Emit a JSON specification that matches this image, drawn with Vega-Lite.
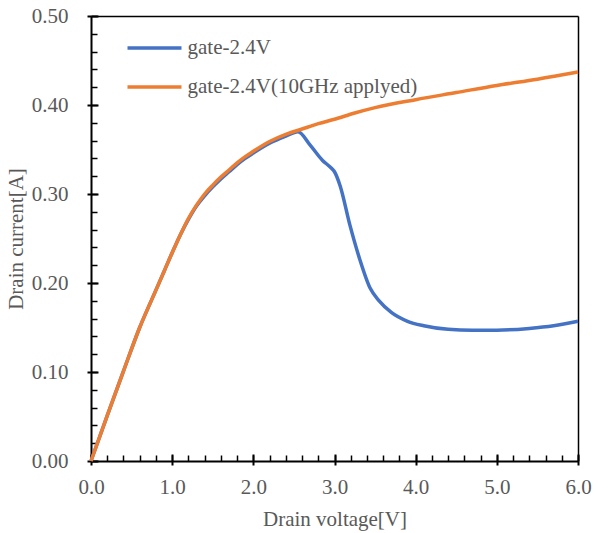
{
  "$schema": "https://vega.github.io/schema/vega-lite/v6.json",
  "width": 487,
  "height": 445,
  "data": {
    "values": [
      {"x": 0.0, "y": 0.000, "s": "gate-2.4V"},
      {"x": 0.2, "y": 0.051, "s": "gate-2.4V"},
      {"x": 0.4, "y": 0.101, "s": "gate-2.4V"},
      {"x": 0.6, "y": 0.150, "s": "gate-2.4V"},
      {"x": 0.8, "y": 0.192, "s": "gate-2.4V"},
      {"x": 0.9, "y": 0.213, "s": "gate-2.4V"},
      {"x": 1.0, "y": 0.234, "s": "gate-2.4V"},
      {"x": 1.1, "y": 0.254, "s": "gate-2.4V"},
      {"x": 1.2, "y": 0.2715, "s": "gate-2.4V"},
      {"x": 1.3, "y": 0.2865, "s": "gate-2.4V"},
      {"x": 1.4, "y": 0.298, "s": "gate-2.4V"},
      {"x": 1.5, "y": 0.308, "s": "gate-2.4V"},
      {"x": 1.6, "y": 0.317, "s": "gate-2.4V"},
      {"x": 1.7, "y": 0.325, "s": "gate-2.4V"},
      {"x": 1.8, "y": 0.333, "s": "gate-2.4V"},
      {"x": 1.9, "y": 0.340, "s": "gate-2.4V"},
      {"x": 2.0, "y": 0.346, "s": "gate-2.4V"},
      {"x": 2.2, "y": 0.357, "s": "gate-2.4V"},
      {"x": 2.4, "y": 0.365, "s": "gate-2.4V"},
      {"x": 2.55, "y": 0.370, "s": "gate-2.4V"},
      {"x": 2.7, "y": 0.355, "s": "gate-2.4V"},
      {"x": 2.85, "y": 0.338, "s": "gate-2.4V"},
      {"x": 2.95, "y": 0.330, "s": "gate-2.4V"},
      {"x": 3.0, "y": 0.325, "s": "gate-2.4V"},
      {"x": 3.07, "y": 0.309, "s": "gate-2.4V"},
      {"x": 3.19, "y": 0.265, "s": "gate-2.4V"},
      {"x": 3.31, "y": 0.227, "s": "gate-2.4V"},
      {"x": 3.44, "y": 0.194, "s": "gate-2.4V"},
      {"x": 3.55, "y": 0.180, "s": "gate-2.4V"},
      {"x": 3.7, "y": 0.167, "s": "gate-2.4V"},
      {"x": 3.9, "y": 0.157, "s": "gate-2.4V"},
      {"x": 4.1, "y": 0.152, "s": "gate-2.4V"},
      {"x": 4.4, "y": 0.148, "s": "gate-2.4V"},
      {"x": 4.7, "y": 0.147, "s": "gate-2.4V"},
      {"x": 5.0, "y": 0.147, "s": "gate-2.4V"},
      {"x": 5.4, "y": 0.149, "s": "gate-2.4V"},
      {"x": 5.7, "y": 0.152, "s": "gate-2.4V"},
      {"x": 6.0, "y": 0.157, "s": "gate-2.4V"},
      {"x": 0.0, "y": 0.000, "s": "gate-2.4V(10GHz applyed)"},
      {"x": 0.2, "y": 0.051, "s": "gate-2.4V(10GHz applyed)"},
      {"x": 0.4, "y": 0.101, "s": "gate-2.4V(10GHz applyed)"},
      {"x": 0.6, "y": 0.150, "s": "gate-2.4V(10GHz applyed)"},
      {"x": 0.8, "y": 0.192, "s": "gate-2.4V(10GHz applyed)"},
      {"x": 0.9, "y": 0.213, "s": "gate-2.4V(10GHz applyed)"},
      {"x": 1.0, "y": 0.234, "s": "gate-2.4V(10GHz applyed)"},
      {"x": 1.1, "y": 0.254, "s": "gate-2.4V(10GHz applyed)"},
      {"x": 1.2, "y": 0.2725, "s": "gate-2.4V(10GHz applyed)"},
      {"x": 1.3, "y": 0.2875, "s": "gate-2.4V(10GHz applyed)"},
      {"x": 1.4, "y": 0.300, "s": "gate-2.4V(10GHz applyed)"},
      {"x": 1.5, "y": 0.310, "s": "gate-2.4V(10GHz applyed)"},
      {"x": 1.6, "y": 0.319, "s": "gate-2.4V(10GHz applyed)"},
      {"x": 1.7, "y": 0.327, "s": "gate-2.4V(10GHz applyed)"},
      {"x": 1.8, "y": 0.335, "s": "gate-2.4V(10GHz applyed)"},
      {"x": 1.9, "y": 0.342, "s": "gate-2.4V(10GHz applyed)"},
      {"x": 2.0, "y": 0.348, "s": "gate-2.4V(10GHz applyed)"},
      {"x": 2.2, "y": 0.359, "s": "gate-2.4V(10GHz applyed)"},
      {"x": 2.4, "y": 0.367, "s": "gate-2.4V(10GHz applyed)"},
      {"x": 2.6, "y": 0.373, "s": "gate-2.4V(10GHz applyed)"},
      {"x": 2.8, "y": 0.379, "s": "gate-2.4V(10GHz applyed)"},
      {"x": 3.0, "y": 0.384, "s": "gate-2.4V(10GHz applyed)"},
      {"x": 3.25, "y": 0.391, "s": "gate-2.4V(10GHz applyed)"},
      {"x": 3.5, "y": 0.397, "s": "gate-2.4V(10GHz applyed)"},
      {"x": 4.0, "y": 0.406, "s": "gate-2.4V(10GHz applyed)"},
      {"x": 4.5, "y": 0.414, "s": "gate-2.4V(10GHz applyed)"},
      {"x": 5.0, "y": 0.422, "s": "gate-2.4V(10GHz applyed)"},
      {"x": 5.5, "y": 0.429, "s": "gate-2.4V(10GHz applyed)"},
      {"x": 6.0, "y": 0.437, "s": "gate-2.4V(10GHz applyed)"}
    ]
  },
  "layer": [
    {
      "mark": {"type": "line", "interpolate": "monotone", "strokeWidth": 3.5},
      "encoding": {
        "x": {
          "field": "x", "type": "quantitative",
          "scale": {"domain": [0, 6], "nice": false, "zero": false},
          "axis": {
            "orient": "bottom",
            "values": [0, 1, 2, 3, 4, 5, 6],
            "format": ".1f",
            "grid": false,
            "tickSize": 4,
            "tickWidth": 2,
            "tickColor": "#000000",
            "domainWidth": 2,
            "domainColor": "#000000",
            "labelFont": "Times New Roman",
            "labelFontSize": 21,
            "labelColor": "#595959",
            "labelPadding": 11,
            "labelFlush": false,
            "labelOverlap": false,
            "title": "Drain voltage[V]",
            "titleFont": "Times New Roman",
            "titleFontSize": 21,
            "titleFontWeight": "normal",
            "titleColor": "#595959",
            "titlePadding": 11
          }
        },
        "y": {
          "field": "y", "type": "quantitative",
          "scale": {"domain": [0, 0.5], "nice": false, "zero": false},
          "axis": {
            "orient": "left",
            "values": [0, 0.1, 0.2, 0.3, 0.4, 0.5],
            "format": ".2f",
            "grid": false,
            "tickSize": 4,
            "tickWidth": 2,
            "tickColor": "#000000",
            "domainWidth": 2,
            "domainColor": "#000000",
            "labelFont": "Times New Roman",
            "labelFontSize": 21,
            "labelColor": "#595959",
            "labelPadding": 19,
            "labelFlush": false,
            "labelOverlap": false,
            "title": "Drain current[A]",
            "titleFont": "Times New Roman",
            "titleFontSize": 21,
            "titleFontWeight": "normal",
            "titleColor": "#595959",
            "titlePadding": 5
          }
        },
        "color": {
          "field": "s", "type": "nominal",
          "scale": {"domain": ["gate-2.4V", "gate-2.4V(10GHz applyed)"], "range": ["#4472C4", "#ED7D31"]},
          "legend": {
            "orient": "none",
            "legendX": 34.5,
            "legendY": 3,
            "title": null,
            "padding": 0,
            "symbolType": "stroke",
            "symbolSize": 2916,
            "symbolStrokeWidth": 3.5,
            "labelFont": "Times New Roman",
            "labelFontSize": 21,
            "labelColor": "#595959",
            "labelOffset": 4,
            "labelLimit": 400,
            "rowPadding": -17
          }
        }
      }
    },
    {
      "mark": {"type": "line", "opacity": 0},
      "encoding": {
        "x": {
          "field": "x", "type": "quantitative",
          "axis": {
            "orient": "bottom",
            "values": [0, 0.2, 0.4, 0.6, 0.8, 1, 1.2, 1.4, 1.6, 1.8, 2, 2.2, 2.4, 2.6, 2.8, 3, 3.2, 3.4, 3.6, 3.8, 4, 4.2, 4.4, 4.6, 4.8, 5, 5.2, 5.4, 5.6, 5.8, 6],
            "grid": false,
            "tickSize": -6,
            "tickWidth": 1.5,
            "tickColor": "#000000",
            "labels": false,
            "domain": false,
            "title": null
          }
        },
        "y": {
          "field": "y", "type": "quantitative",
          "axis": {
            "orient": "left",
            "values": [0, 0.02, 0.04, 0.06, 0.08, 0.1, 0.12, 0.14, 0.16, 0.18, 0.2, 0.22, 0.24, 0.26, 0.28, 0.3, 0.32, 0.34, 0.36, 0.38, 0.4, 0.42, 0.44, 0.46, 0.48, 0.5],
            "grid": false,
            "tickSize": -6,
            "tickWidth": 1.5,
            "tickColor": "#000000",
            "labels": false,
            "domain": false,
            "title": null
          }
        }
      }
    },
    {
      "mark": {"type": "line", "opacity": 0},
      "encoding": {
        "x": {
          "field": "x", "type": "quantitative",
          "axis": {
            "orient": "bottom",
            "values": [0, 1, 2, 3, 4, 5, 6],
            "grid": false,
            "tickSize": -7,
            "tickWidth": 2,
            "tickColor": "#000000",
            "labels": false,
            "domain": false,
            "title": null
          }
        },
        "y": {
          "field": "y", "type": "quantitative",
          "axis": {
            "orient": "left",
            "values": [0, 0.1, 0.2, 0.3, 0.4, 0.5],
            "grid": false,
            "tickSize": -7,
            "tickWidth": 2,
            "tickColor": "#000000",
            "labels": false,
            "domain": false,
            "title": null
          }
        }
      }
    },
    {
      "mark": {"type": "line", "opacity": 0},
      "encoding": {
        "x": {
          "field": "x", "type": "quantitative",
          "axis": {
            "orient": "top",
            "grid": false,
            "ticks": false,
            "labels": false,
            "domain": true,
            "domainWidth": 1.5,
            "domainColor": "#000000",
            "title": null
          }
        },
        "y": {
          "field": "y", "type": "quantitative",
          "axis": {
            "orient": "right",
            "grid": false,
            "ticks": false,
            "labels": false,
            "domain": true,
            "domainWidth": 1.5,
            "domainColor": "#000000",
            "title": null
          }
        }
      }
    }
  ],
  "resolve": {"axis": {"x": "independent", "y": "independent"}}
}
